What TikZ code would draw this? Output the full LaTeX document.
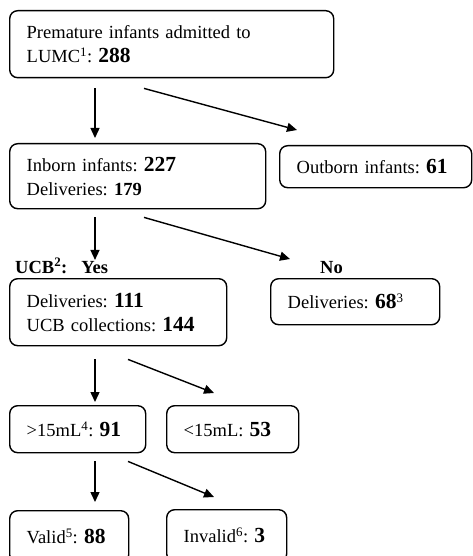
\documentclass[tikz,border=0pt]{standalone}
\usepackage{fontspec}
\setmainfont{Liberation Serif}
\usetikzlibrary{arrows.meta,calc}
\newcommand{\cnt}[1]{{\fontsize{21.5}{24}\selectfont\bfseries #1}}
\frenchspacing

\begin{document}
\begin{tikzpicture}[x=1pt,y=-1pt,>={Triangle[length=10pt,width=9pt]},
  box/.style={draw,line width=1.4pt,rounded corners=8pt,anchor=north west,align=left,
    inner xsep=17pt,inner ysep=0pt,font=\fontsize{18.5}{24}\selectfont\frenchspacing},
  lbl/.style={anchor=base west,inner sep=0pt,font=\fontsize{18.5}{24}\selectfont\bfseries},
  arr/.style={->,line width=1.4pt}]
\useasboundingbox (0,0) rectangle (473,556);
\node[box,text width=290pt,minimum height=67pt] (admit) at (9,10) {Premature infants admitted to\\LUMC\textsuperscript{1}: \cnt{288}};
\node[box,text width=222pt,minimum height=65pt] (inborn) at (9,143) {Inborn infants: \cnt{227}\\Deliveries: \textbf{179}};
\node[box,text width=158pt,minimum height=42pt] (outborn) at (279,145) {\mbox{Outborn infants: \cnt{61}}};
\node[lbl] (yes) at (15,273) {UCB\textsuperscript{2}:\hspace{14pt}Yes};
\node[lbl] (no) at (320,273) {No};
\node[box,text width=183pt,minimum height=67pt] (ucbyes) at (9,278) {Deliveries: \cnt{111}\\UCB collections: \cnt{144}};
\node[box,text width=135pt,minimum height=46pt] (ucbno) at (270,278) {\mbox{Deliveries: \cnt{68}\textsuperscript{3}}};
\node[box,text width=102pt,minimum height=47pt] (above) at (9,405) {\mbox{>15mL\textsuperscript{4}: \cnt{91}}};
\node[box,text width=98pt,minimum height=47pt] (below) at (166,405) {\mbox{<15mL: \cnt{53}}};
\node[box,text width=85pt,minimum height=52pt] (valid) at (9,510) {\mbox{Valid\textsuperscript{5}: \cnt{88}}};
\node[box,text width=86pt,minimum height=52pt] (invalid) at (166,509) {\mbox{Invalid\textsuperscript{6}: \cnt{3}}};
\draw[arr] ([xshift=86pt,yshift=-10pt]admit.south west) -- ([xshift=86pt,yshift=5pt]inborn.north west);
\draw[arr] ([xshift=135pt,yshift=-10pt]admit.south west) -- ([xshift=18pt,yshift=15pt]outborn.north west);
\draw[arr] ([xshift=86pt,yshift=-8pt]inborn.south west) -- ([xshift=86pt,yshift=-2pt]yes.north west -| inborn.west);
\draw[arr] ([xshift=135pt,yshift=-8pt]inborn.south west) -- ([xshift=20pt,yshift=19pt]ucbno.north west);
\draw[arr] ([xshift=86pt,yshift=-13pt]ucbyes.south west) -- ([xshift=86pt,yshift=3pt]above.north west);
\draw[arr] ([xshift=119pt,yshift=-13pt]ucbyes.south west) -- ([xshift=48pt,yshift=12pt]below.north west);
\draw[arr] ([xshift=86pt,yshift=-8pt]above.south west) -- ([xshift=86pt,yshift=8pt]valid.north west);
\draw[arr] ([xshift=119pt,yshift=-8pt]above.south west) -- ([xshift=48pt,yshift=12pt]invalid.north west);
\end{tikzpicture}
\end{document}
